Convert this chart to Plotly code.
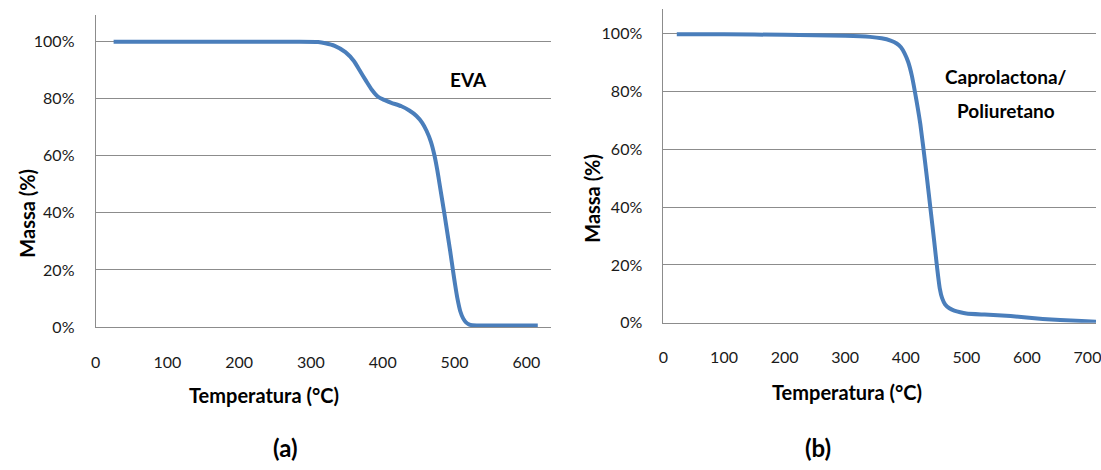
import plotly.graph_objects as go

# ---- data ----
eva_temp = [25, 100, 200, 280, 310, 320, 333, 348, 360, 369, 377, 385, 393, 401, 412, 426, 437, 447, 455, 461, 467,
            472, 476, 479, 483, 486, 490, 494, 498, 501, 504, 508, 512, 516, 520, 525, 560, 600, 616]
eva_mass = [100, 100, 100, 100, 99.9, 99.5, 98.6, 96.4, 93.2, 89.5, 86.2, 83.1, 80.8, 79.7, 78.6, 77.4, 75.9, 74.0,
            71.6, 68.8, 65.0, 60.2, 55.0, 50.4, 44.2, 39.5, 33.0, 26.5, 19.5, 14.5, 10.0, 5.5, 3.0, 1.6, 0.9, 0.6,
            0.5, 0.5, 0.5]

pcl_temp = [22, 100, 200, 300, 341, 360, 375, 385, 392, 398, 404, 410, 415, 420, 424, 429, 435, 441, 447, 452,
            456, 460, 465, 472, 480, 490, 500, 530, 573, 626, 655, 690, 720]
pcl_mass = [99.8, 99.8, 99.6, 99.3, 98.9, 98.4, 97.6, 96.6, 95.3, 93.2, 90.2, 85.5, 80.0, 74.0, 68.7, 60.5, 50.0,
            39.0, 28.0, 18.5, 12.0, 8.5, 6.3, 5.0, 4.2, 3.6, 3.2, 2.8, 2.3, 1.3, 0.9, 0.6, 0.3]

y_ticks = [0, 0.2, 0.4, 0.6, 0.8, 1.0]
x_ticks_a = [0, 100, 200, 300, 400, 500, 600]
x_ticks_b = [0, 100, 200, 300, 400, 500, 600, 700]

W, H = 1101, 470
LINE = "#4A7EBB"
GRID = "#8C8C8C"
FONT = "Lato"

fig = go.Figure()
fig.add_trace(go.Scatter(x=eva_temp, y=[m / 100 for m in eva_mass], mode="lines",
                         line=dict(color=LINE, width=4, shape="spline", smoothing=0.5),
                         xaxis="x", yaxis="y", showlegend=False))
fig.add_trace(go.Scatter(x=pcl_temp, y=[m / 100 for m in pcl_mass], mode="lines",
                         line=dict(color=LINE, width=4, shape="spline", smoothing=0.5),
                         xaxis="x2", yaxis="y2", showlegend=False))


def xax(domain, rng, ticks, anchor, tl):
    return dict(domain=domain, range=rng, tickvals=ticks, ticktext=[str(t) for t in ticks],
                showgrid=False, zeroline=False, showline=True, linecolor=GRID, linewidth=1,
                ticks="outside", ticklen=tl, tickcolor="rgba(0,0,0,0)", ticklabeloverflow="allow",
                tickfont=dict(family=FONT, size=16, color="#1a1a1a"), anchor=anchor, fixedrange=True)


def yax(domain, rng, anchor):
    return dict(domain=domain, range=rng, tickvals=y_ticks, tickformat=".0%",
                showgrid=True, gridcolor=GRID, gridwidth=1, zeroline=False,
                showline=True, linecolor=GRID, linewidth=1,
                ticks="outside", ticklen=17, tickcolor="rgba(0,0,0,0)",
                tickfont=dict(family=FONT, size=16, color="#1a1a1a"), anchor=anchor, fixedrange=True)


fig.update_layout(
    width=W, height=H,
    margin=dict(l=0, r=0, t=0, b=0),
    paper_bgcolor="white", plot_bgcolor="white",
    xaxis=xax([91.5 / W, 550.7 / W], [0, 634], x_ticks_a, "y", 21),
    yaxis=yax([(H - 333.3) / H, (H - 15) / H], [0, 1.095], "x"),
    xaxis2=xax([664.5 / W, 1.0], [0, 714], x_ticks_b, "y2", 20),
    yaxis2=yax([(H - 329) / H, (H - 9.3) / H], [0, 1.085], "x2"),
)

ann = []


def txt(x, y, t, size, angle=0):
    ann.append(dict(x=x / W, y=1 - y / H, xref="paper", yref="paper", text=t, showarrow=False,
                    xanchor="center", yanchor="middle", textangle=angle,
                    font=dict(family=FONT, size=size, color="black")))


txt(261, 403, "<b>Temperatura (°C)</b>", 20)
txt(850, 400, "<b>Temperatura (°C)</b>", 20)
txt(22, 217, "<b>Massa (%)</b>", 20, -90)
txt(593, 202, "<b>Massa (%)</b>", 20, -90)
txt(468, 81, "<b>EVA</b>", 19)
txt(1010, 78, "<b>Caprolactona/</b>", 19)
txt(1010, 113, "<b>Poliuretano</b>", 19)
txt(283, 456, "<b>(a)</b>", 24)
txt(820, 456, "<b>(b)</b>", 24)
fig.update_layout(annotations=ann)

fig.write_html("out.html")
